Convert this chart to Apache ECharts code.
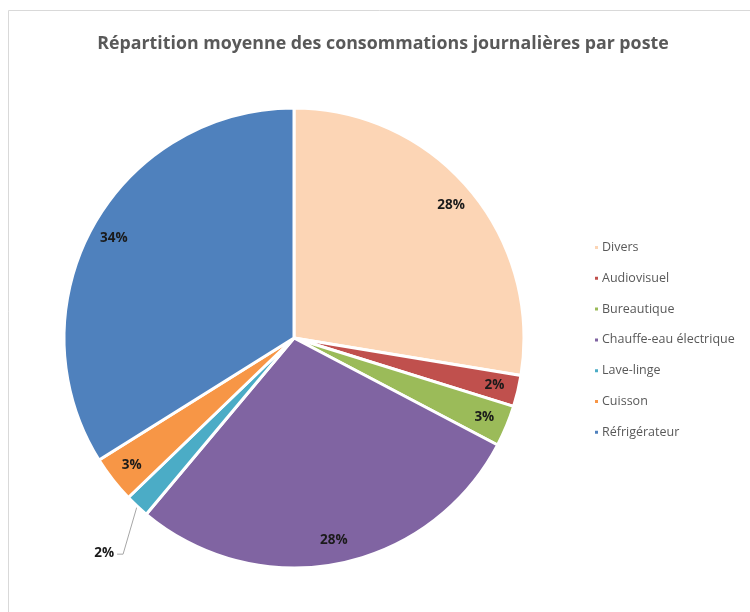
<!DOCTYPE html>
<html><head><meta charset="utf-8">
<script src="https://cdn.jsdelivr.net/npm/echarts@6/dist/echarts.min.js"></script>
<style>html,body{margin:0;padding:0;background:#fff}#c{width:750px;height:612px}</style>
</head><body><div id="c"></div>
<script>
var titleText = 'Répartition moyenne des consommations journalières par poste';
var categories = ['Divers','Audiovisuel','Bureautique','Chauffe-eau électrique','Lave-linge','Cuisson','Réfrigérateur'];
var values = [27.6, 2.2, 2.9, 28.4, 1.7, 3.3, 33.9];
var colors = ['#FCD5B5','#C0504D','#9BBB59','#8064A2','#4BACC6','#F79646','#4F81BD'];

var data = categories.map(function(n,i){return {name:n, value:values[i], itemStyle:{color:colors[i]}};});
var labelData = categories.map(function(n,i){
  var d = {name:n, value:values[i]};
  if (i === 4) d.label = {position:'outside'};
  return d;
});
var chart = echarts.init(document.getElementById('c'));
var center = [294, 338];
chart.setOption({
  animation:false,
  title:{text:titleText, left:378, textAlign:'center', top:30,
    textStyle:{fontFamily:'Open Sans', fontWeight:'bold', fontSize:17.8, color:'#595959'}},
  legend:{orient:'vertical', left:588, top:236, itemWidth:5, itemHeight:5, icon:'rect', itemGap:17.8,
    data:categories, textStyle:{fontFamily:'Open Sans', fontSize:12.5, color:'#595959', padding:[0,0,0,-2]}, selectedMode:false},
  graphic:[{type:'rect', shape:{x:8.5,y:10.5,width:760,height:620}, style:{fill:null, stroke:'#d9d9d9', lineWidth:1}, silent:true}],
  series:[
    {type:'pie', center:center, radius:[0,230], startAngle:90, clockwise:true, data:data,
     label:{show:false}, labelLine:{show:false}, itemStyle:{borderColor:'#fff', borderWidth:3},
     emphasis:{disabled:true}, silent:true},
    {type:'pie', center:center, radius:[176,230], startAngle:90, clockwise:true, data:labelData,
     itemStyle:{color:'rgba(0,0,0,0)', borderWidth:0}, emphasis:{disabled:true}, silent:true,
     label:{show:true, position:'inside', fontFamily:'Open Sans', fontWeight:'bold', fontSize:13.5, color:'#1a1a1a',
       formatter:function(p){return Math.round(p.percent)+'%';}},
     labelLine:{show:true, length:40, length2:8, lineStyle:{color:'#a6a6a6', width:1}},
     labelLayout:function(p){
       if(p.dataIndex===4 && p.labelLinePoints){
         var p0 = p.labelLinePoints[0];
         return {x:p0[0]-23, y:p0[1]+47, align:'right', verticalAlign:'middle',
           labelLinePoints:[[p0[0],p0[1]],[p0[0]-14,p0[1]+48],[p0[0]-20,p0[1]+48]]};
       }
       return {};
     }
    }
  ]
});
</script></body></html>
